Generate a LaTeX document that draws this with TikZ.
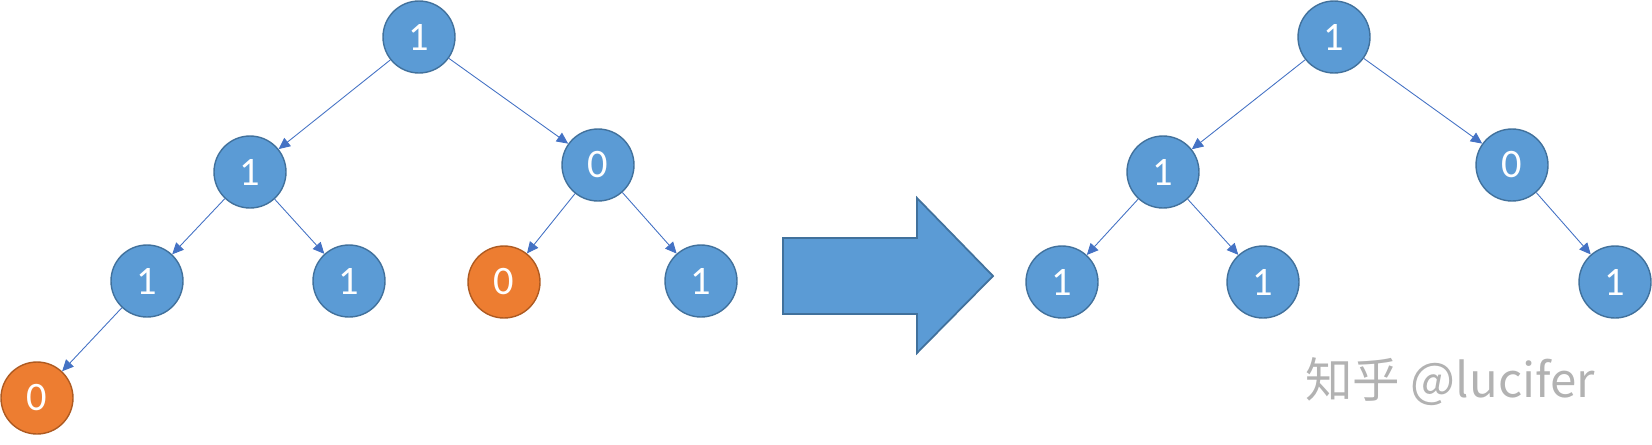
\documentclass[tikz,border=0pt]{standalone}
\usepackage{fontspec}
\setmainfont{Carlito}
\newfontfamily\cjk{Noto Sans CJK SC}
\usetikzlibrary{arrows.meta}

\definecolor{nodeblue}{RGB}{91,155,213}
\definecolor{nodeline}{RGB}{65,113,156}
\definecolor{nodeorange}{RGB}{237,125,49}
\definecolor{orangeline}{RGB}{174,90,33}
\definecolor{edgeblue}{RGB}{68,114,196}
\definecolor{markgray}{RGB}{178,178,178}

\tikzset{
  bit/.style={circle, draw=nodeline, fill=nodeblue, line width=0.8pt,
    minimum size=1.44cm, inner sep=0pt, text=white,
    font=\fontsize{23}{27}\selectfont},
  zerobit/.style={bit, draw=orangeline, fill=nodeorange},
  link/.style={-{Triangle[length=6.5pt,width=6pt]}, edgeblue, line width=0.5pt}
}

\begin{document}
\begin{tikzpicture}[x=0.02cm, y=-0.02cm]
  \useasboundingbox (0,0) rectangle (1652,444);

  % Tree before pruning
  \node[bit] (a) at (419,37) {1};
  \node[bit] (al) at (250,172) {1};
  \node[bit] (ar) at (598,165) {0};
  \node[bit] (all) at (147,281) {1};
  \node[bit] (alr) at (349,281) {1};
  \node[zerobit] (arl) at (504,282) {0};
  \node[bit] (arr) at (701,281) {1};
  \node[zerobit] (alll) at (37,398) {0};
  \draw[link] (a) -- (al);
  \draw[link] (a) -- (ar);
  \draw[link] (al) -- (all);
  \draw[link] (al) -- (alr);
  \draw[link] (ar) -- (arl);
  \draw[link] (ar) -- (arr);
  \draw[link] (all) -- (alll);

  % Big arrow
  \draw[fill=nodeblue, draw=nodeline, line width=1pt, line join=miter]
    (783,238) -- (917,238) -- (917,198) -- (993,276) -- (917,353)
    -- (917,314) -- (783,314) -- cycle;

  % Tree after pruning
  \node[bit] (b) at (1334,37) {1};
  \node[bit] (bl) at (1163,172) {1};
  \node[bit] (br) at (1512,165) {0};
  \node[bit] (bll) at (1062,282) {1};
  \node[bit] (blr) at (1263,282) {1};
  \node[bit] (brr) at (1615,282) {1};
  \draw[link] (b) -- (bl);
  \draw[link] (b) -- (br);
  \draw[link] (bl) -- (bll);
  \draw[link] (bl) -- (blr);
  \draw[link] (br) -- (brr);

  % Watermark
  \node[anchor=base west, inner sep=0pt, text=markgray,
    font=\cjk\fontsize{27}{31}\selectfont] (mark) at (1305,397) {知乎 @lucifer};
\end{tikzpicture}
\end{document}
